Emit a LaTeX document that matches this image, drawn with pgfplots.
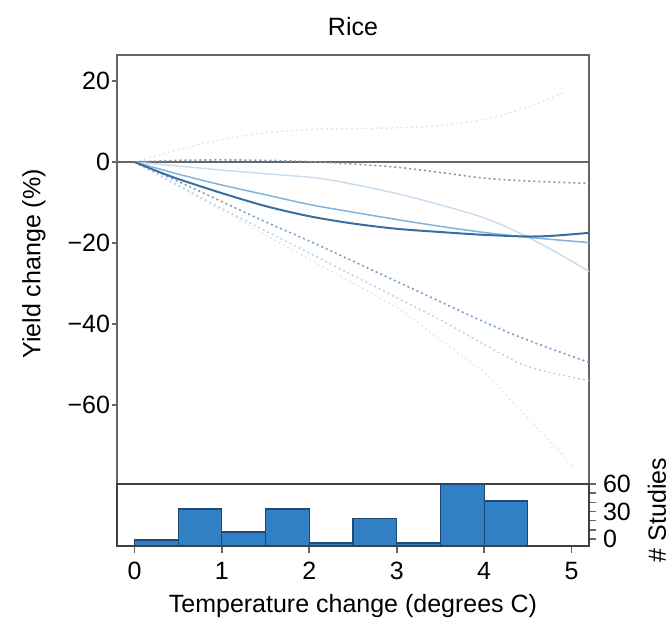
\documentclass[border=0pt]{standalone}
\usepackage{pgfplots}
\pgfplotsset{compat=1.18}
\usepackage{fontspec}
\setmainfont{Liberation Sans}

\definecolor{lnA}{HTML}{3B6E9E}
\definecolor{lnB}{HTML}{7FB3E0}
\definecolor{lnC}{HTML}{C6DCEF}
\definecolor{lnD}{HTML}{8797AC}
\definecolor{lnE}{HTML}{7A9EC8}
\definecolor{lnF}{HTML}{DCE7F2}
\definecolor{lnG}{HTML}{BCD0E6}
\definecolor{lnH}{HTML}{E2EAF3}
\definecolor{histfill}{HTML}{3280C4}
\definecolor{histedge}{HTML}{1E4B75}
\definecolor{frame}{HTML}{666666}

\begin{document}
\begin{tikzpicture}
\useasboundingbox (-58.5pt,-69pt) rectangle (276pt,242pt);
\pgfplotsset{every axis/.append style={
  font=\fontsize{12.5}{14}\selectfont,
  scale only axis, width=236pt,
  xmin=-0.2, xmax=5.2,
  tick align=outside,
  axis line style={frame, line width=0.9pt},
  tick style={frame, line width=0.8pt},
}}

% main panel
\begin{axis}[
  at={(0pt,0pt)}, anchor=south west,
  height=214.5pt,
  ymin=-79.5, ymax=26.4,
  xtick=\empty,
  ytick={-60,-40,-20,0,20},
  yticklabels={−60,−40,−20,0,20},
  ytick pos=left,
  major tick length=2.5pt,
  yticklabel style={xshift=2.5pt},
  title={Rice},
  title style={at={(axis description cs:0.5,1)}, anchor=center, yshift=8pt},
  ylabel={Yield change (\%)},
  ylabel style={at={(axis description cs:-0.176,0.513)}, anchor=center},
]
% faint bounds
\addplot[lnF, line width=0.7pt, dash pattern=on 1pt off 1.5pt, smooth] coordinates {
  (0,0) (0.5,3) (1,5.5) (1.5,7.2) (2,8) (2.5,8.3) (3,8.4) (3.5,9) (4,10.5) (4.5,13.5) (4.9,17)};
\addplot[lnH, line width=0.7pt, dash pattern=on 1pt off 1.5pt, smooth] coordinates {
  (0,0) (1,-12) (2,-24) (3,-36) (3.5,-44) (4,-52) (4.4,-61) (4.8,-70) (5.0,-75)};
\addplot[lnG, line width=0.7pt, dash pattern=on 1pt off 1.5pt, smooth] coordinates {
  (0,0) (1,-11.5) (2,-22.5) (3,-33.5) (3.5,-39) (4,-45) (4.5,-50.5) (5.2,-54)};
% zero line
\addplot[black!60, line width=0.9pt] coordinates {(-0.2,0) (5.2,0)};
% curves
\addplot[lnC, line width=0.7pt, smooth] coordinates {
  (0,0) (0.6,-1.2) (1,-2) (1.5,-2.9) (2.1,-4) (2.5,-5.5) (3,-7.8) (3.5,-10.6) (4,-13.8) (4.4,-17.5) (4.8,-22) (5.2,-27)};
\addplot[lnD, line width=0.8pt, dash pattern=on 1pt off 1.5pt, smooth] coordinates {
  (0,0) (0.5,0.4) (1,0.5) (1.5,0.4) (2,0.1) (2.5,-0.5) (3,-1.3) (3.5,-2.6) (4,-4) (4.5,-4.7) (5.2,-5.3)};
\addplot[lnE, line width=0.8pt, dash pattern=on 1pt off 1.5pt, smooth] coordinates {
  (0,0) (0.5,-4.8) (1,-9.8) (1.5,-14.8) (2,-19.5) (2.5,-24.5) (3,-29.5) (3.5,-34.5) (4,-39.5) (4.5,-44) (5.2,-49.5)};
\addplot[lnB, line width=0.75pt, smooth] coordinates {
  (0,0) (0.5,-3) (1,-5.7) (1.5,-8.1) (2,-10.5) (2.5,-12.4) (3,-14.2) (3.5,-15.9) (4,-17.4) (4.5,-18.6) (5.2,-19.9)};
\addplot[lnA, line width=1pt, smooth] coordinates {
  (0,0) (0.25,-2.2) (0.5,-4.2) (1,-7.7) (1.5,-10.9) (2,-13.4) (2.5,-15.2) (3,-16.5) (3.5,-17.3) (4,-18) (4.5,-18.4) (4.8,-18.2) (5.2,-17.5)};
\end{axis}

% histogram of studies (counts shifted by +7.3 so bars rise from the lower edge)
\begin{axis}[
  at={(0pt,0pt)}, anchor=north west,
  height=30.85pt,
  ymin=0, ymax=67.3,
  axis line style={black!75, line width=0.9pt},
  xtick={0,1,2,3,4,5},
  xtick pos=bottom,
  major tick length=3.5pt,
  /pgf/number format/assume math mode=true,
  xticklabel style={anchor=center, yshift=-9pt},
  ytick={7.3,17.3,27.3,37.3,47.3,57.3,67.3},
  yticklabels={0,,,30,,,60},
  ytick pos=right,
  yticklabel style={anchor=west, xshift=0pt},
  xlabel={Temperature change (degrees C)},
  xlabel style={at={(axis description cs:0.5,0)}, anchor=center, yshift=-30pt},
  ylabel={\# Studies},
  ylabel style={at={(axis description cs:1.144,0.58)}, anchor=center},
]
\addplot[ybar interval, fill=histfill, draw=histedge, line width=0.6pt] coordinates {
  (0,6.2) (0.5,40.0) (1,14.9) (1.5,40.0) (2,2.9) (2.5,29.4) (3,2.9) (3.5,67.3) (4,48.7) (4.5,0)};
\end{axis}
\end{tikzpicture}
\end{document}
